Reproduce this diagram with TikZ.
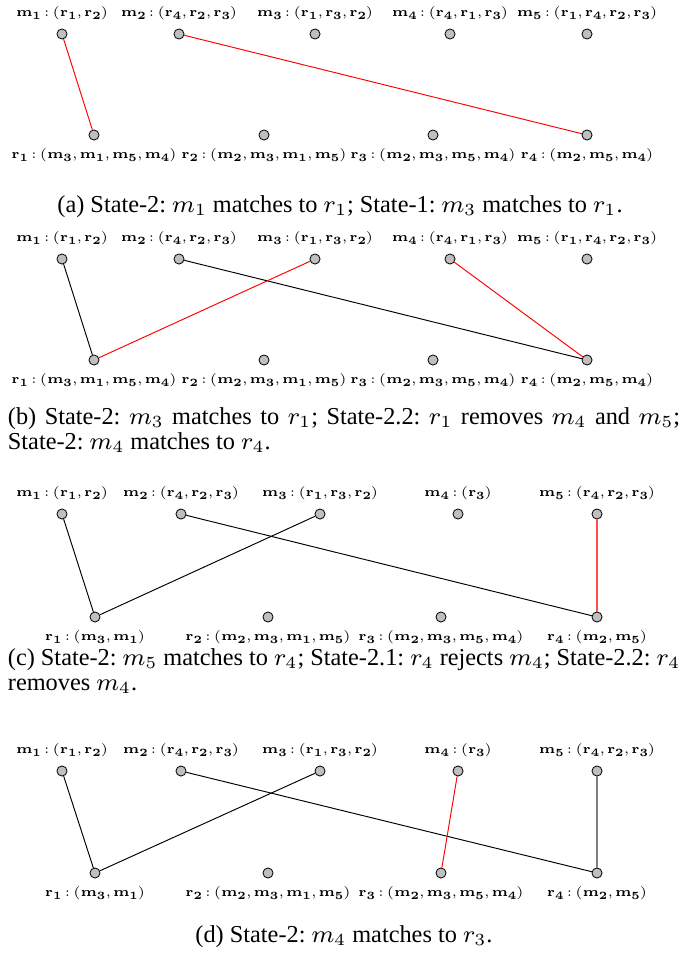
\documentclass[tikz,border=0pt]{standalone}
\usepackage{fix-cm}
\usepackage{amsmath}
\usepackage[no-math]{fontspec}
\setmainfont{Liberation Serif}
\usetikzlibrary{positioning}

\DeclareMathSizes{5.5}{5.5}{4.6}{4}
\newcommand{\plab}[1]{$\scriptspace=0pt\relax\thinmuskip=1.5mu\relax\thickmuskip=3mu\relax\mathbf{#1}$}

\tikzset{
  agent/.style={circle, draw, fill=gray!50, minimum size=3.7pt, inner sep=0pt, line width=0.3pt},
  pref/.style={inner sep=0pt, font=\fontsize{5.5}{6.5}\selectfont, scale=0.88, transform shape},
  subcap/.style={inner sep=0pt, font=\fontsize{8.9}{9.3}\selectfont\frenchspacing},
  pair/.style={line width=0.35pt},
  newpair/.style={pair, red},
  firm/.style={line width=0.8pt}
}

\begin{document}
\begin{tikzpicture}[x=0.366pt, y=-0.366pt]
  \useasboundingbox (0,0) rectangle (689,959);

  \foreach \n/\x/\lab in {1/62/{(r_1,r_2)}, 2/179/{(r_4,r_2,r_3)}, 3/315/{(r_1,r_3,r_2)}, 4/450/{(r_4,r_1,r_3)}, 5/587/{(r_1,r_4,r_2,r_3)}}{
    \node[agent] (a-m\n) at (\x,34) {};
    \node[pref, above=2.9pt of a-m\n] (a-ml\n) {\plab{m_\n:\lab}};
  }
  \foreach \n/\x/\lab in {1/94/{(m_3,m_1,m_5,m_4)}, 2/264/{(m_2,m_3,m_1,m_5)}, 3/433/{(m_2,m_3,m_5,m_4)}, 4/587/{(m_2,m_5,m_4)}}{
    \node[agent] (a-r\n) at (\x,135) {};
    \node[pref, below=2.9pt of a-r\n] (a-rl\n) {\plab{r_\n:\lab}};
  }
  \draw[newpair] (a-m1) -- (a-r1);
  \draw[newpair] (a-m2) -- (a-r4);
  \node[subcap] (a-cap) at (340,207) {(a) State-2: $m_1$ matches to $r_1$; State-1: $m_3$ matches to $r_1$.};

  \foreach \n/\x/\lab in {1/62/{(r_1,r_2)}, 2/179/{(r_4,r_2,r_3)}, 3/315/{(r_1,r_3,r_2)}, 4/450/{(r_4,r_1,r_3)}, 5/587/{(r_1,r_4,r_2,r_3)}}{
    \node[agent] (b-m\n) at (\x,259) {};
    \node[pref, above=2.9pt of b-m\n] (b-ml\n) {\plab{m_\n:\lab}};
  }
  \foreach \n/\x/\lab in {1/94/{(m_3,m_1,m_5,m_4)}, 2/264/{(m_2,m_3,m_1,m_5)}, 3/433/{(m_2,m_3,m_5,m_4)}, 4/587/{(m_2,m_5,m_4)}}{
    \node[agent] (b-r\n) at (\x,360) {};
    \node[pref, below=2.9pt of b-r\n] (b-rl\n) {\plab{r_\n:\lab}};
  }
  \draw[pair] (b-m1) -- (b-r1);
  \draw[pair] (b-m2) -- (b-r4);
  \draw[newpair] (b-m3) -- (b-r1);
  \draw[newpair] (b-m4) -- (b-r4);
  \node[subcap, text width=246pt, align=justify] (b-cap) at (344,430) {(b) State-2: $m_3$ matches to $r_1$; State-2.2: $r_1$ removes $m_4$ and $m_5$;\linebreak State-2: $m_4$ matches to $r_4$.};

  \foreach \n/\x/\lab in {1/62/{(r_1,r_2)}, 2/181/{(r_4,r_2,r_3)}, 3/320/{(r_1,r_3,r_2)}, 4/458/{(r_3)}, 5/597/{(r_4,r_2,r_3)}}{
    \node[agent] (c-m\n) at (\x,514) {};
    \node[pref, above=2.9pt of c-m\n] (c-ml\n) {\plab{m_\n:\lab}};
  }
  \foreach \n/\x/\lab in {1/95/{(m_3,m_1)}, 2/268/{(m_2,m_3,m_1,m_5)}, 3/441/{(m_2,m_3,m_5,m_4)}, 4/597/{(m_2,m_5)}}{
    \node[agent] (c-r\n) at (\x,617) {};
    \node[pref, below=2.9pt of c-r\n] (c-rl\n) {\plab{r_\n:\lab}};
  }
  \draw[pair] (c-m1) -- (c-r1);
  \draw[pair] (c-m3) -- (c-r1);
  \draw[pair] (c-m2) -- (c-r4);
  \draw[firm, red!70] (c-m5) -- (c-r4);
  \node[subcap, text width=246pt, align=justify] (c-cap) at (344,671) {(c) State-2: $m_5$ matches to $r_4$; State-2.1: $r_4$ rejects $m_4$; State-2.2: $r_4$\linebreak removes $m_4$.};

  \foreach \n/\x/\lab in {1/62/{(r_1,r_2)}, 2/181/{(r_4,r_2,r_3)}, 3/320/{(r_1,r_3,r_2)}, 4/458/{(r_3)}, 5/597/{(r_4,r_2,r_3)}}{
    \node[agent] (d-m\n) at (\x,771) {};
    \node[pref, above=2.9pt of d-m\n] (d-ml\n) {\plab{m_\n:\lab}};
  }
  \foreach \n/\x/\lab in {1/95/{(m_3,m_1)}, 2/268/{(m_2,m_3,m_1,m_5)}, 3/441/{(m_2,m_3,m_5,m_4)}, 4/597/{(m_2,m_5)}}{
    \node[agent] (d-r\n) at (\x,873) {};
    \node[pref, below=2.9pt of d-r\n] (d-rl\n) {\plab{r_\n:\lab}};
  }
  \draw[pair] (d-m1) -- (d-r1);
  \draw[pair] (d-m3) -- (d-r1);
  \draw[pair] (d-m2) -- (d-r4);
  \draw[newpair] (d-m4) -- (d-r3);
  \draw[firm, gray] (d-m5) -- (d-r4);
  \node[subcap] (d-cap) at (344,937) {(d) State-2: $m_4$ matches to $r_3$.};
\end{tikzpicture}
\end{document}
